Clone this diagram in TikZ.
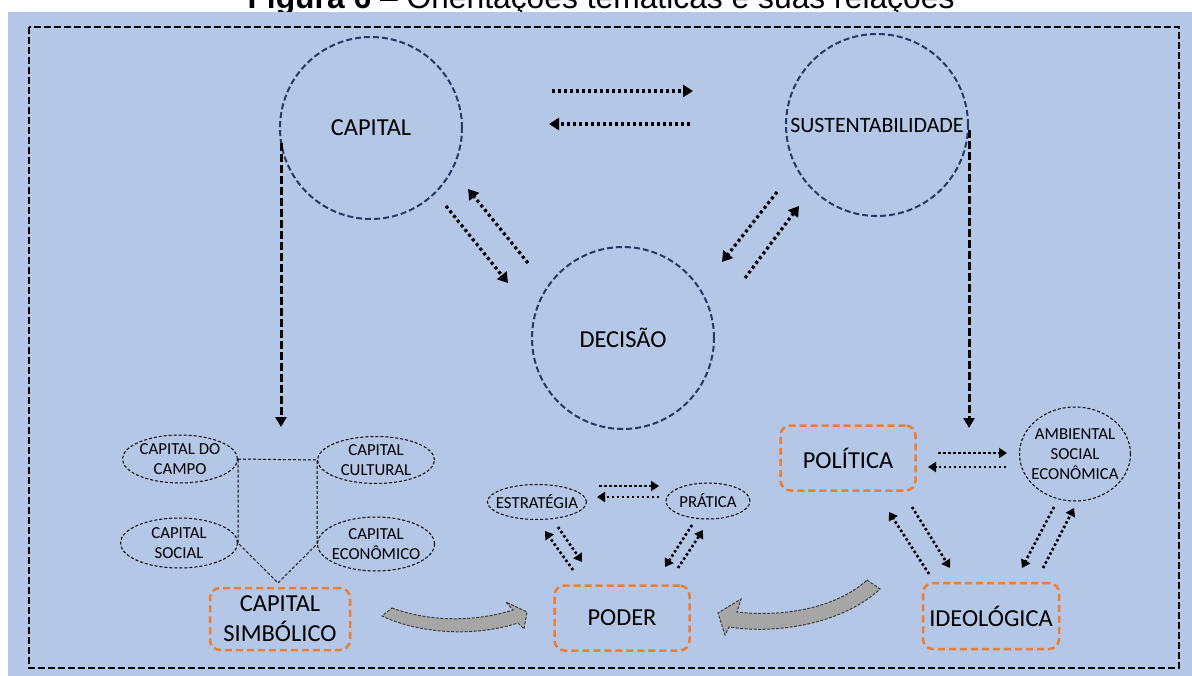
\documentclass[tikz,border=0pt]{standalone}
\usepackage{fontspec}
\setmainfont{Carlito}
\newfontfamily\titlefont{Liberation Sans}
\usepackage{tikz}
\usetikzlibrary{shapes.geometric,arrows.meta}

\definecolor{panelblue}{RGB}{180,199,231}
\definecolor{circblue}{RGB}{40,58,98}
\definecolor{boxorange}{RGB}{237,125,49}
\definecolor{arrowgray}{RGB}{166,166,166}
\definecolor{outlinegray}{RGB}{60,60,60}

\newcommand{\bigtxt}{\fontsize{24.4}{30}\selectfont}
\newcommand{\smalltxt}{\fontsize{16.8}{20}\selectfont}

\tikzset{
  bigcirc/.style={circle, draw=circblue, line width=2pt, dash pattern=on 6pt off 3pt, minimum size=182pt, inner sep=0pt, font=\bigtxt},
  orangebox/.style={rectangle, rounded corners=10pt, draw=boxorange, line width=2.5pt, dash pattern=on 7pt off 4pt, minimum width=135pt, minimum height=64pt, align=center, font=\bigtxt},
  smallell/.style={ellipse, draw, line width=1pt, dash pattern=on 3pt off 2pt, inner sep=0pt},
  smalllbl/.style={font=\smalltxt, align=center, inner sep=0pt},
  dotarr/.style={line width=3.2pt, dash pattern=on 3pt off 3pt, -{Triangle[length=10pt,width=12pt]}},
  smalldot/.style={line width=2.6pt, dash pattern=on 2.5pt off 2.5pt, -{Triangle[length=8pt,width=10pt]}},
  dasharr/.style={line width=3pt, dash pattern=on 8pt off 3pt, -{Triangle[length=10pt,width=11pt]}},
  thinline/.style={line width=1pt, dash pattern=on 3pt off 2pt},
  grayarr/.style={fill=arrowgray, draw=outlinegray, line width=1pt, dash pattern=on 3pt off 1.5pt},
  framestyle/.style={line width=2.5pt, dash pattern=on 7pt off 3pt}
}

\begin{document}
\begin{tikzpicture}[x=1pt,y=-1pt]
\useasboundingbox (0,0) rectangle (1192,676);
\clip (0,0) rectangle (1192,676);
\fill[white] (0,0) rectangle (1192,676);
\node[font=\titlefont\fontsize{31.8}{38}\selectfont, anchor=base, inner sep=0pt] (title) at (601,9) {\textbf{Figura 6} – Orientações temáticas e suas relações};
\fill[panelblue] (8,12) rectangle (1192,676);
\draw[framestyle] (29,27) rectangle (1179,668);

% main circles
\node[bigcirc] (cap) at (371,128) {CAPITAL};
\node[bigcirc, font=\fontsize{21.9}{26}\selectfont] (sus) at (877,125) {SUSTENTABILIDADE};
\node[bigcirc] (dec) at (623,338) {DECISÃO};

% orange boxes
\node[orangebox, minimum width=140pt, minimum height=62pt] (csim) at (280,619) {CAPITAL\\SIMBÓLICO};
\node[orangebox, minimum height=65pt] (pod) at (622,618) {PODER};
\node[orangebox, minimum height=65pt] (pol) at (848,458) {POLÍTICA};
\node[orangebox, minimum width=136pt, minimum height=66pt] (ide) at (991,616) {IDEOLÓGICA};

% small ellipses
\node[smallell, minimum width=115pt, minimum height=48pt, label={[smalllbl]center:{CAPITAL DO\\CAMPO}}] (campo) at (180,459) {};
\node[smallell, minimum width=117pt, minimum height=47pt, label={[smalllbl]center:{CAPITAL\\CULTURAL}}] (cult) at (376,460) {};
\node[smallell, minimum width=117pt, minimum height=50pt, label={[smalllbl]center:{CAPITAL\\SOCIAL}}] (soc) at (179,543) {};
\node[smallell, minimum width=117pt, minimum height=54pt, label={[smalllbl]center:{CAPITAL\\ECONÔMICO}}] (econ) at (376,544) {};
\node[smallell, minimum width=99pt, minimum height=35pt, label={[smalllbl]center:ESTRATÉGIA}] (est) at (537,502) {};
\node[smallell, minimum width=84pt, minimum height=36pt, label={[smalllbl]center:PRÁTICA}] (pra) at (708,501) {};
\node[smallell, minimum width=111pt, minimum height=94pt, label={[smalllbl]center:{AMBIENTAL\\SOCIAL\\ECONÔMICA}}] (amb) at (1075,454) {};

% capital group outline
\coordinate (cgtip) at (278,583);
\draw[thinline] (campo.east) -- (cult.west) -- (econ.west) -- (cgtip) -- (soc.east) -- cycle;

% dotted arrows between the circles
\draw[dotarr] ([shift={(181,-37)}]cap.center) -- ([shift={(-184,-34)}]sus.center);
\draw[dotarr] ([shift={(-187,-1)}]sus.center) -- ([shift={(178,-4)}]cap.center);
\draw[dotarr] ([shift={(75,78)}]cap.center) -- ([shift={(-115,-55)}]dec.center);
\draw[dotarr] ([shift={(-95,-75)}]dec.center) -- ([shift={(97,61)}]cap.center);
\draw[dotarr] ([shift={(-100,67)}]sus.center) -- ([shift={(99,-76)}]dec.center);
\draw[dotarr] ([shift={(122,-60)}]dec.center) -- ([shift={(-78,81)}]sus.center);

% dashed arrows down
\coordinate (cgin) at (281,427);
\draw[dasharr] ([shift={(-90,15)}]cap.center) -- (cgin);
\draw[dasharr] ([shift={(92,5)}]sus.center) -- ([shift={(121,-30)}]pol.center);

% poder triangle
\draw[smalldot] ([shift={(62,-16)}]est.center) -- ([shift={(-49,-15)}]pra.center);
\draw[smalldot] ([shift={(-49,-4)}]pra.center) -- ([shift={(60,-5)}]est.center);
\draw[smalldot] ([shift={(-49,-48)}]pod.center) -- ([shift={(8,29)}]est.center);
\draw[smalldot] ([shift={(21,25)}]est.center) -- ([shift={(-40,-56)}]pod.center);
\draw[smalldot] ([shift={(-16,24)}]pra.center) -- ([shift={(43,-51)}]pod.center);
\draw[smalldot] ([shift={(56,-50)}]pod.center) -- ([shift={(-5,29)}]pra.center);

% politica triangle
\draw[smalldot] ([shift={(90,-5)}]pol.center) -- ([shift={(-68,-1)}]amb.center);
\draw[smalldot] ([shift={(-69,13)}]amb.center) -- ([shift={(80,9)}]pol.center);
\draw[smalldot] ([shift={(-62,-42)}]ide.center) -- ([shift={(41,54)}]pol.center);
\draw[smalldot] ([shift={(64,49)}]pol.center) -- ([shift={(-41,-48)}]ide.center);
\draw[smalldot] ([shift={(-21,53)}]amb.center) -- ([shift={(31,-48)}]ide.center);
\draw[smalldot] ([shift={(52,-48)}]ide.center) -- ([shift={(-1,54)}]amb.center);

% grey block arrows into PODER
\filldraw[grayarr] (392,608) .. controls (430,622) and (475,622) .. (513,610) -- (506,602) -- (527,612) -- (524,629) -- (518,623) .. controls (475,637) and (420,634) .. (382,616) -- cycle;
\filldraw[grayarr] (867,580) -- (880,589) .. controls (845,622) and (780,635) .. (729,627) -- (725,635) -- (718,613) -- (741,599) -- (737,612) .. controls (790,618) and (840,605) .. (867,580) -- cycle;
\end{tikzpicture}
\end{document}
